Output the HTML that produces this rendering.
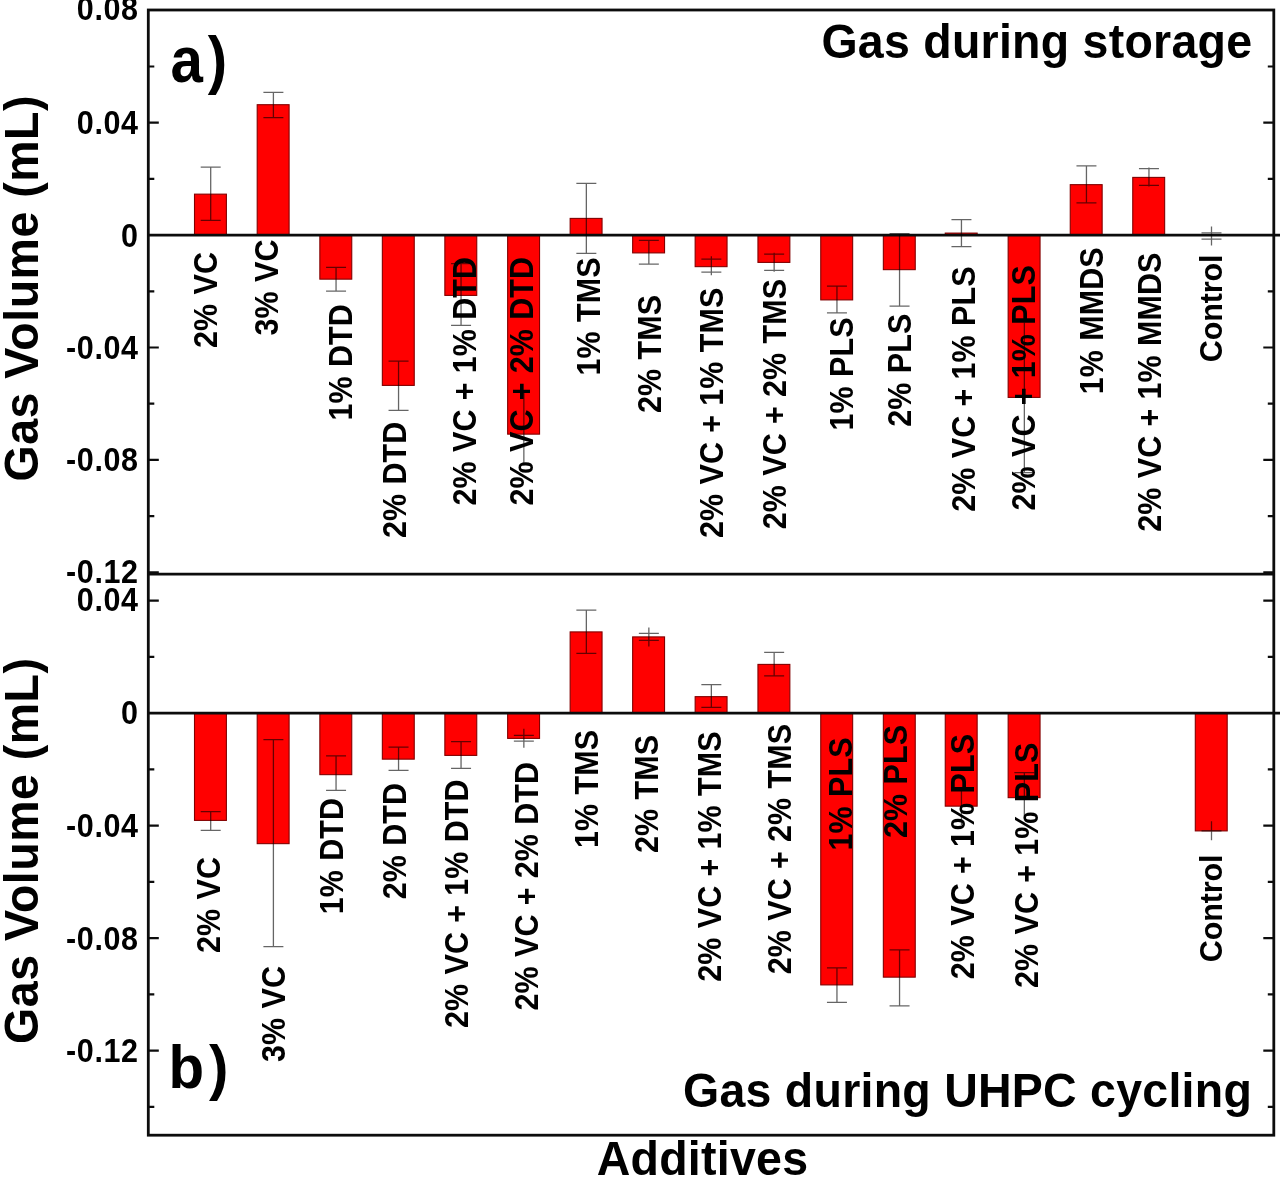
<!DOCTYPE html>
<html lang="en"><head><meta charset="utf-8"><title>Gas volume vs additives</title>
<style>
html,body{margin:0;padding:0;background:#fff;}
body{width:1280px;height:1179px;overflow:hidden;}
svg{display:block;filter:blur(.45px);}
text{font-family:"Liberation Sans",Arial,Helvetica,sans-serif;font-weight:bold;fill:#000;}
.s{font-size:30.5px;letter-spacing:.1px;word-spacing:.6px;}
.t{font-size:30.5px;letter-spacing:.6px;}
.l{font-size:46.5px;letter-spacing:.26px;}
.y{font-size:46.5px;letter-spacing:.5px;}
.p{font-size:62px;letter-spacing:5px;}
.bar{fill:#ff0000;stroke:#820000;stroke-width:1.1;}
.ax{stroke:#0c0c0c;stroke-width:2.8;fill:none;stroke-linecap:butt;}
.tk{stroke:#0c0c0c;stroke-width:2.2;fill:none;}
.eb{stroke:#000;stroke-width:1.3;fill:none;opacity:.6;}
</style></head><body>
<svg width="1280" height="1179" viewBox="0 0 1280 1179">
<rect x="0" y="0" width="1280" height="1179" fill="#fff"/>
<g class="bar">
<rect x="194.50" y="194.15" width="31.90" height="40.95"/>
<rect x="257.20" y="104.70" width="31.90" height="130.40"/>
<rect x="319.85" y="235.10" width="31.90" height="44.05"/>
<rect x="382.35" y="235.10" width="31.90" height="150.30"/>
<rect x="444.85" y="235.10" width="31.90" height="60.30"/>
<rect x="507.65" y="235.10" width="31.90" height="199.05"/>
<rect x="570.15" y="218.40" width="31.90" height="16.70"/>
<rect x="632.65" y="235.10" width="31.90" height="17.80"/>
<rect x="695.15" y="235.10" width="31.90" height="31.55"/>
<rect x="757.95" y="235.10" width="31.90" height="27.30"/>
<rect x="820.75" y="235.10" width="31.90" height="64.80"/>
<rect x="883.35" y="235.10" width="31.90" height="34.55"/>
<rect x="945.25" y="233.10" width="31.90" height="2.00"/>
<rect x="1008.15" y="235.10" width="31.90" height="162.30"/>
<rect x="1070.25" y="184.65" width="31.90" height="50.45"/>
<rect x="1132.75" y="177.40" width="31.90" height="57.70"/>
</g>
<g class="bar">
<rect x="194.50" y="713.20" width="31.90" height="107.20"/>
<rect x="257.20" y="713.20" width="31.90" height="130.45"/>
<rect x="319.85" y="713.20" width="31.90" height="61.45"/>
<rect x="382.35" y="713.20" width="31.90" height="45.95"/>
<rect x="444.85" y="713.20" width="31.90" height="42.20"/>
<rect x="507.65" y="713.20" width="31.90" height="25.20"/>
<rect x="570.15" y="631.90" width="31.90" height="81.30"/>
<rect x="632.65" y="636.90" width="31.90" height="76.30"/>
<rect x="695.15" y="696.65" width="31.90" height="16.55"/>
<rect x="757.95" y="664.40" width="31.90" height="48.80"/>
<rect x="820.75" y="713.20" width="31.90" height="271.70"/>
<rect x="883.35" y="713.20" width="31.90" height="263.95"/>
<rect x="945.25" y="713.20" width="31.90" height="92.95"/>
<rect x="1008.15" y="713.20" width="31.90" height="84.45"/>
<rect x="1195.30" y="713.20" width="31.90" height="117.70"/>
</g>
<g class="ax">
<rect x="148.30" y="10.00" width="1125.50" height="1125.20"/>
<line x1="148.30" y1="574.20" x2="1273.80" y2="574.20"/>
<line x1="148.30" y1="235.10" x2="1280" y2="235.10"/>
<line x1="148.30" y1="713.20" x2="1280" y2="713.20"/>
</g>
<g class="tk">
<path d="M148.30 122.70h10.5M1273.80 122.70h-10.5"/>
<path d="M148.30 347.50h10.5M1273.80 347.50h-10.5"/>
<path d="M148.30 459.90h10.5M1273.80 459.90h-10.5"/>
<path d="M148.30 572.30h10.5M1273.80 572.30h-10.5"/>
<path d="M148.30 66.50h6M1273.80 66.50h-6"/>
<path d="M148.30 178.90h6M1273.80 178.90h-6"/>
<path d="M148.30 291.30h6M1273.80 291.30h-6"/>
<path d="M148.30 403.70h6M1273.80 403.70h-6"/>
<path d="M148.30 516.10h6M1273.80 516.10h-6"/>
<path d="M148.30 600.70h10.5M1273.80 600.70h-10.5"/>
<path d="M148.30 825.70h10.5M1273.80 825.70h-10.5"/>
<path d="M148.30 938.20h10.5M1273.80 938.20h-10.5"/>
<path d="M148.30 1050.70h10.5M1273.80 1050.70h-10.5"/>
<path d="M148.30 656.95h6M1273.80 656.95h-6"/>
<path d="M148.30 769.45h6M1273.80 769.45h-6"/>
<path d="M148.30 881.95h6M1273.80 881.95h-6"/>
<path d="M148.30 994.45h6M1273.80 994.45h-6"/>
<path d="M148.30 1106.95h6M1273.80 1106.95h-6"/>
</g>
<g class="eb">
<path d="M210.70 167.15V220.40M200.70 167.15h20.00M200.70 220.40h20.00"/>
<path d="M273.40 92.30V117.70M263.40 92.30h20.00M263.40 117.70h20.00"/>
<path d="M336.05 267.40V291.15M326.05 267.40h20.00M326.05 291.15h20.00"/>
<path d="M398.55 361.15V410.40M388.55 361.15h20.00M388.55 410.40h20.00"/>
<path d="M461.05 263.70V325.40M451.05 263.70h20.00M451.05 325.40h20.00"/>
<path d="M523.85 392.40V465.00"/>
<path d="M586.35 183.40V253.40M576.35 183.40h20.00M576.35 253.40h20.00"/>
<path d="M648.85 240.40V264.15M638.85 240.40h20.00M638.85 264.15h20.00"/>
<path d="M711.35 256.15V275.15M701.35 259.15h20.00M701.35 272.15h20.00"/>
<path d="M774.15 252.77V271.77M764.15 254.15h20.00M764.15 270.40h20.00"/>
<path d="M836.95 286.15V312.90M826.95 286.15h20.00M826.95 312.90h20.00"/>
<path d="M899.55 233.65V306.15M889.55 233.65h20.00M889.55 306.15h20.00"/>
<path d="M961.45 219.70V246.60M951.45 219.70h20.00M951.45 246.60h20.00"/>
<path d="M1024.35 322.40V472.60M1014.35 472.60h20.00"/>
<path d="M1086.45 165.90V202.90M1076.45 165.90h20.00M1076.45 202.90h20.00"/>
<path d="M1148.95 167.53V186.53M1138.95 168.65h20.00M1138.95 185.40h20.00"/>
<path d="M1211.50 226.53V245.53M1201.50 232.90h20.00M1201.50 239.15h20.00"/>
<path d="M210.70 811.52V830.52M200.70 811.65h20.00M200.70 830.40h20.00"/>
<path d="M273.40 739.65V946.65M263.40 739.65h20.00M263.40 946.65h20.00"/>
<path d="M336.05 755.90V790.40M326.05 755.90h20.00M326.05 790.40h20.00"/>
<path d="M398.55 747.15V770.40M388.55 747.15h20.00M388.55 770.40h20.00"/>
<path d="M461.05 741.65V768.40M451.05 741.65h20.00M451.05 768.40h20.00"/>
<path d="M523.85 728.77V747.77M513.85 735.40h20.00M513.85 741.15h20.00"/>
<path d="M586.35 610.15V653.40M576.35 610.15h20.00M576.35 653.40h20.00"/>
<path d="M648.85 627.40V646.40M638.85 633.40h20.00M638.85 640.40h20.00"/>
<path d="M711.35 684.65V707.40M701.35 684.65h20.00M701.35 707.40h20.00"/>
<path d="M774.15 652.40V675.90M764.15 652.40h20.00M764.15 675.90h20.00"/>
<path d="M836.95 967.90V1002.40M826.95 967.90h20.00M826.95 1002.40h20.00"/>
<path d="M899.55 949.90V1005.90M889.55 949.90h20.00M889.55 1005.90h20.00"/>
<path d="M961.45 790.40V825.00"/>
<path d="M1024.35 772.65V818.80M1014.35 772.65h20.00"/>
<path d="M1211.50 821.30V840.30M1201.50 830.80h20.00M1201.50 830.80h20.00"/>
</g>
<g class="t" text-anchor="end">
<text transform="translate(138.6 20.10) scale(1 1.07)">0.08</text>
<text transform="translate(138.6 133.70) scale(1 1.07)">0.04</text>
<text transform="translate(138.6 246.80) scale(1 1.07)">0</text>
<text transform="translate(138.6 358.50) scale(1 1.07)">-0.04</text>
<text transform="translate(138.6 470.70) scale(1 1.07)">-0.08</text>
<text transform="translate(138.6 582.60) scale(1 1.07)">-0.12</text>
<text transform="translate(138.6 611.20) scale(1 1.07)">0.04</text>
<text transform="translate(138.6 724.00) scale(1 1.07)">0</text>
<text transform="translate(138.6 837.00) scale(1 1.07)">-0.04</text>
<text transform="translate(138.6 949.50) scale(1 1.07)">-0.08</text>
<text transform="translate(138.6 1062.00) scale(1 1.07)">-0.12</text>
</g>
<g class="s">
<text transform="translate(217.00 347.95) rotate(-90) scale(1 1.07)">2% VC</text>
<text transform="translate(278.25 335.45) rotate(-90) scale(1 1.07)">3% VC</text>
<text transform="translate(351.50 420.45) rotate(-90) scale(1 1.07)">1% DTD</text>
<text transform="translate(405.75 537.95) rotate(-90) scale(1 1.07)">2% DTD</text>
<text transform="translate(475.75 505.45) rotate(-90) scale(1 1.07)">2% VC + 1% DTD</text>
<text transform="translate(533.25 505.45) rotate(-90) scale(1 1.07)">2% VC + 2% DTD</text>
<text transform="translate(599.50 375.45) rotate(-90) scale(1 1.07)">1% TMS</text>
<text transform="translate(660.75 412.95) rotate(-90) scale(1 1.07)">2% TMS</text>
<text transform="translate(723.25 537.95) rotate(-90) scale(1 1.07)">2% VC + 1% TMS</text>
<text transform="translate(785.75 529.20) rotate(-90) scale(1 1.07)">2% VC + 2% TMS</text>
<text transform="translate(852.50 430.45) rotate(-90) scale(1 1.07)">1% PLS</text>
<text transform="translate(910.75 426.70) rotate(-90) scale(1 1.07)">2% PLS</text>
<text transform="translate(974.50 511.70) rotate(-90) scale(1 1.07)">2% VC + 1% PLS</text>
<text transform="translate(1034.50 510.45) rotate(-90) scale(1 1.07)">2% VC + 1% PLS</text>
<text transform="translate(1103.25 394.20) rotate(-90) scale(1 1.07)">1% MMDS</text>
<text transform="translate(1160.75 531.70) rotate(-90) scale(1 1.07)">2% VC + 1% MMDS</text>
<text style="letter-spacing:-.1px" transform="translate(1222.00 362.20) rotate(-90) scale(1 1.02)">Control</text>
<text transform="translate(219.50 952.95) rotate(-90) scale(1 1.07)">2% VC</text>
<text transform="translate(284.50 1061.95) rotate(-90) scale(1 1.07)">3% VC</text>
<text transform="translate(343.25 914.20) rotate(-90) scale(1 1.07)">1% DTD</text>
<text transform="translate(405.75 899.20) rotate(-90) scale(1 1.07)">2% DTD</text>
<text transform="translate(467.50 1027.95) rotate(-90) scale(1 1.07)">2% VC + 1% DTD</text>
<text transform="translate(537.50 1010.45) rotate(-90) scale(1 1.07)">2% VC + 2% DTD</text>
<text transform="translate(598.25 847.95) rotate(-90) scale(1 1.07)">1% TMS</text>
<text transform="translate(658.25 852.95) rotate(-90) scale(1 1.07)">2% TMS</text>
<text transform="translate(720.75 981.70) rotate(-90) scale(1 1.07)">2% VC + 1% TMS</text>
<text transform="translate(790.75 974.20) rotate(-90) scale(1 1.07)">2% VC + 2% TMS</text>
<text transform="translate(851.50 850.45) rotate(-90) scale(1 1.07)">1% PLS</text>
<text transform="translate(907.00 837.95) rotate(-90) scale(1 1.07)">2% PLS</text>
<text transform="translate(973.50 979.20) rotate(-90) scale(1 1.07)">2% VC + 1% PLS</text>
<text transform="translate(1038.00 987.95) rotate(-90) scale(1 1.07)">2% VC + 1% PLS</text>
<text style="letter-spacing:-.1px" transform="translate(1222.00 962.20) rotate(-90) scale(1 1.02)">Control</text>
</g>
<text class="l" transform="translate(1252.3 58.2) scale(1 1.03)" text-anchor="end">Gas during storage</text>
<text class="l" transform="translate(1252.1 1106.7) scale(1 1.03)" text-anchor="end">Gas during UHPC cycling</text>
<text class="l" transform="translate(702.5 1175) scale(1 1.03)" text-anchor="middle">Additives</text>
<text class="y" text-anchor="middle" transform="translate(38.3 288.3) rotate(-90) scale(1 1.045)">Gas Volume (mL)</text>
<text class="y" text-anchor="middle" transform="translate(38.3 850.7) rotate(-90) scale(1 1.045)">Gas Volume (mL)</text>
<text class="p" transform="translate(170.6 82) scale(.94 1.03)">a)</text>
<text class="p" transform="translate(168.6 1088) scale(.94 1.0)">b)</text>
</svg></body></html>
